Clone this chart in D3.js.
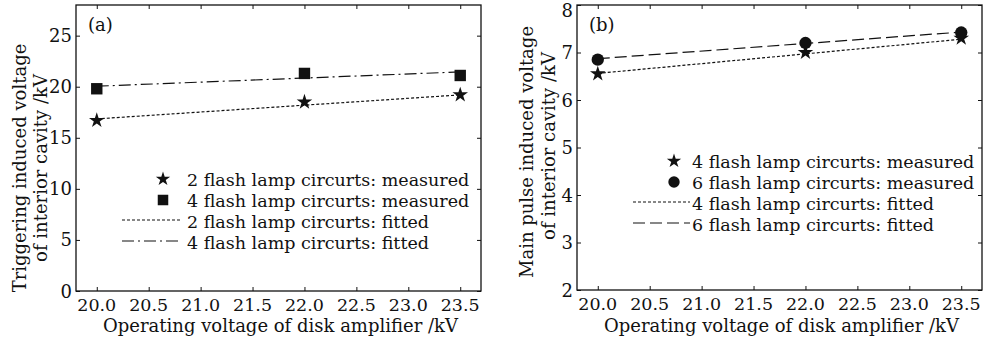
<!DOCTYPE html>
<html>
<head>
<meta charset="utf-8">
<script src="https://cdn.jsdelivr.net/npm/d3@7"></script>
<style>
  body { margin: 0; background: #fff; }
  text { font-family: "DejaVu Serif", serif; fill: #111; }
</style>
</head>
<body>
<div id="root"></div>
<script>
// values
const xTicks = [20.0, 20.5, 21.0, 21.5, 22.0, 22.5, 23.0, 23.5];
const voltages = [20.0, 22.0, 23.5];
const fitEnds = [20.0, 23.5];

const trigTicks = [0, 5, 10, 15, 20, 25];
const trig2Measured = [16.7, 18.5, 19.2];
const trig4Measured = [19.8, 21.3, 21.1];
const trig2Fitted = [16.85, 19.2];
const trig4Fitted = [20.05, 21.45];

const mainTicks = [2, 3, 4, 5, 6, 7, 8];
const main4Measured = [6.55, 7.0, 7.3];
const main6Measured = [6.85, 7.2, 7.42];
const main4Fitted = [6.56, 7.28];
const main6Fitted = [6.87, 7.43];

const W = 986, H = 341;
const ink = "#111";

const svg = d3.select("#root").append("svg")
  .attr("width", W).attr("height", H);

function drawPanel(p) {
  const x = d3.scaleLinear().domain([19.8, 23.7]).range([p.left, p.right]);
  const y = d3.scaleLinear().domain(p.yDomain).range([p.bottom, p.top]);
  const g = svg.append("g");

  // frame
  g.append("rect")
    .attr("x", p.left).attr("y", p.top)
    .attr("width", p.right - p.left).attr("height", p.bottom - p.top)
    .attr("fill", "none").attr("stroke", ink).attr("stroke-width", 1.3);

  // inward ticks on all sides
  g.append("g").attr("transform", `translate(0,${p.bottom})`)
    .call(d3.axisTop(x).tickValues(xTicks).tickSize(4).tickFormat(""))
    .call(a => a.select(".domain").remove());
  g.append("g").attr("transform", `translate(0,${p.top})`)
    .call(d3.axisBottom(x).tickValues(xTicks).tickSize(4).tickFormat(""))
    .call(a => a.select(".domain").remove());
  g.append("g").attr("transform", `translate(${p.left},0)`)
    .call(d3.axisRight(y).tickValues(p.yTicks).tickSize(4).tickFormat(""))
    .call(a => a.select(".domain").remove());
  g.append("g").attr("transform", `translate(${p.right},0)`)
    .call(d3.axisLeft(y).tickValues(p.yTicks).tickSize(4).tickFormat(""))
    .call(a => a.select(".domain").remove());
  g.selectAll(".tick line").attr("stroke", ink);

  // tick labels
  g.selectAll(".xl").data(xTicks).enter().append("text")
    .attr("x", d => x(d)).attr("y", p.bottom + 20)
    .attr("text-anchor", "middle").style("font-size", "17.5px")
    .text(d => d.toFixed(1));
  g.selectAll(".yl").data(p.yTicks).enter().append("text")
    .attr("x", p.left - 4).attr("y", d => Math.max(17, y(d) + 6.5))
    .attr("text-anchor", "end").style("font-size", "18px")
    .text(d => d);

  // axis titles
  g.append("text")
    .attr("x", (p.left + p.right) / 2 + 2).attr("y", 332)
    .attr("text-anchor", "middle").style("font-size", "18px")
    .text("Operating voltage of disk amplifier /kV");
  p.yTitle.forEach(t => {
    g.append("text")
      .attr("transform", `translate(${t.x},${t.cy}) rotate(-90)`)
      .attr("text-anchor", "middle").style("font-size", "18px")
      .text(t.text);
  });

  g.append("text")
    .attr("x", p.left + 12).attr("y", p.top + 26)
    .style("font-size", "18px").text(p.tag);

  // fitted lines
  const line = d3.line().x(d => x(d[0])).y(d => y(d[1]));
  p.fits.forEach(f => {
    g.append("path")
      .attr("d", line(fitEnds.map((v, i) => [v, f.values[i]])))
      .attr("fill", "none").attr("stroke", ink).attr("stroke-width", 1.2)
      .attr("stroke-dasharray", f.dash);
  });

  // measured points
  p.points.forEach(s => {
    g.selectAll(null).data(voltages).enter().append("path")
      .attr("transform", (d, i) => `translate(${x(d)},${y(s.values[i])})`)
      .attr("d", d3.symbol().type(s.type).size(s.size)())
      .attr("fill", ink);
  });

  // legend
  const lg = g.append("g").style("font-size", "17.5px");
  p.points.forEach((s, i) => {
    const cy = p.legendY + i * 21;
    lg.append("path")
      .attr("transform", `translate(${p.legendSym},${cy})`)
      .attr("d", d3.symbol().type(s.type).size(s.size * 0.85)())
      .attr("fill", ink);
    lg.append("text").attr("x", p.legendText).attr("y", cy + 6.5)
      .text(s.label);
  });
  p.fits.forEach((f, i) => {
    const cy = p.legendY + (i + 2) * 21;
    lg.append("line")
      .attr("x1", p.legendLine[0]).attr("x2", p.legendLine[1])
      .attr("y1", cy - 1).attr("y2", cy - 1)
      .attr("stroke", ink).attr("stroke-width", 1.2)
      .attr("stroke-dasharray", f.dash);
    lg.append("text").attr("x", p.legendText).attr("y", cy + 6.5)
      .text(f.label);
  });
}

drawPanel({
  left: 76, right: 481, top: 5, bottom: 291,
  yDomain: [0, 28], yTicks: trigTicks, tag: "(a)",
  yTitle: [
    { text: "Triggering induced voltage", x: 26, cy: 168 },
    { text: "of interior cavity /kV", x: 47, cy: 168 }
  ],
  points: [
    { type: d3.symbolStar, size: 75, values: trig2Measured, label: "2 flash lamp circurts: measured" },
    { type: d3.symbolSquare, size: 130, values: trig4Measured, label: "4 flash lamp circurts: measured" }
  ],
  fits: [
    { values: trig2Fitted, dash: "3,2", label: "2 flash lamp circurts: fitted" },
    { values: trig4Fitted, dash: "12,4,2,4", label: "4 flash lamp circurts: fitted" }
  ],
  legendY: 179, legendSym: 163, legendText: 187, legendLine: [122, 180]
});

drawPanel({
  left: 577, right: 982, top: 5, bottom: 290,
  yDomain: [2, 8], yTicks: mainTicks, tag: "(b)",
  yTitle: [
    { text: "Main pulse induced voltage", x: 533, cy: 152 },
    { text: "of interior cavity /kV", x: 555, cy: 146 }
  ],
  points: [
    { type: d3.symbolStar, size: 75, values: main4Measured, label: "4 flash lamp circurts: measured" },
    { type: d3.symbolCircle, size: 120, values: main6Measured, label: "6 flash lamp circurts: measured" }
  ],
  fits: [
    { values: main4Fitted, dash: "3,2", label: "4 flash lamp circurts: fitted" },
    { values: main6Fitted, dash: "12,5", label: "6 flash lamp circurts: fitted" }
  ],
  legendY: 161, legendSym: 674, legendText: 692, legendLine: [633, 690]
});
</script>
</body>
</html>
